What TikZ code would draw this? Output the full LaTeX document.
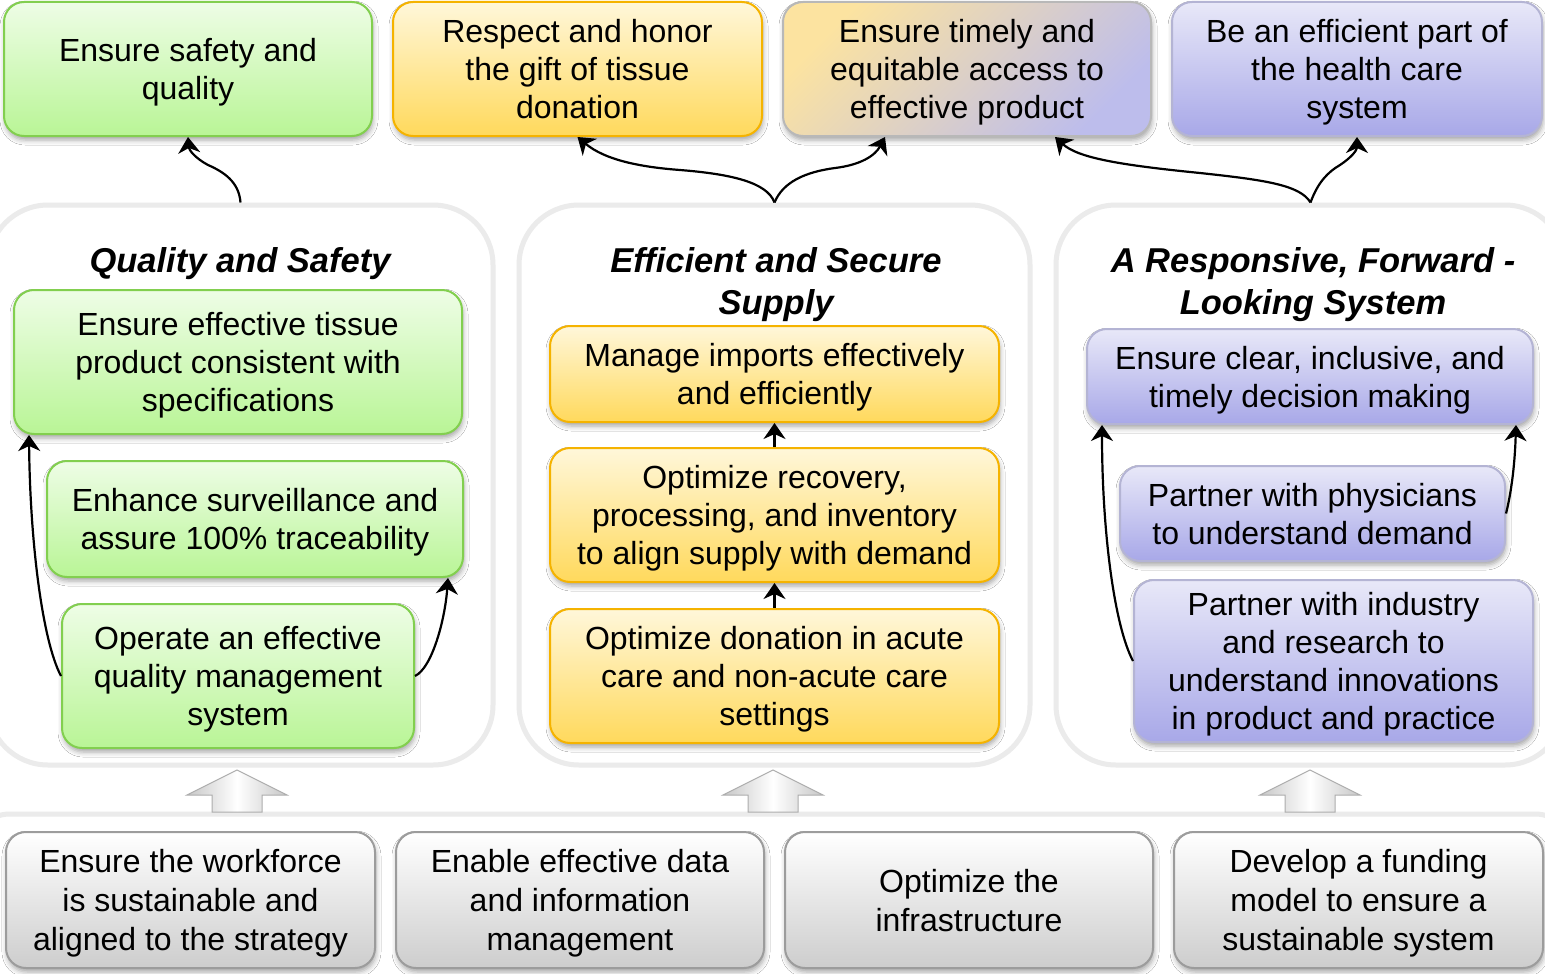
\documentclass[tikz,border=0pt]{standalone}
\usepackage{fontspec}
\setmainfont{Liberation Sans}
\usetikzlibrary{shadows.blur,arrows.meta}
\definecolor{gTop}{HTML}{EEFDE6}
\definecolor{gBot}{HTML}{B9F596}
\definecolor{gLine}{HTML}{82CF4F}
\definecolor{yTop}{HTML}{FFF7DA}
\definecolor{yBot}{HTML}{FFD95C}
\definecolor{yLine}{HTML}{F5B300}
\definecolor{pTop}{HTML}{E8E8F8}
\definecolor{pBot}{HTML}{A8A8E8}
\definecolor{pLine}{HTML}{B4B4D4}
\definecolor{mixA}{HTML}{FCE3A0}
\definecolor{mixB}{HTML}{BDBDEC}
\definecolor{nTop}{HTML}{FFFFFF}
\definecolor{nBot}{HTML}{CDCDCD}
\definecolor{nLine}{HTML}{9C9C9C}
\definecolor{cLine}{HTML}{EBEBEB}
\begin{document}
\begin{tikzpicture}[x=1pt,y=-1pt,
  box/.style={rounded corners=20pt, line width=2pt, align=center,
    font=\fontsize{32}{38}\selectfont, inner sep=0pt, text depth=-2pt,
    blur shadow={shadow xshift=1pt, shadow yshift=-4pt, shadow blur radius=5pt, shadow opacity=35}},
  gbox/.style={box, top color=gTop, bottom color=gBot, draw=gLine},
  ybox/.style={box, top color=yTop, bottom color=yBot, draw=yLine},
  pbox/.style={box, top color=pTop, bottom color=pBot, draw=pLine},
  mbox/.style={box, top color=mixA, bottom color=mixB, shading angle=45, draw=black!28},
  nbox/.style={box, top color=nTop, bottom color=nBot, draw=nLine, font=\fontsize{32}{39}\selectfont},
  container/.style={draw=cLine, line width=5pt, rounded corners=60pt, fill=white, inner sep=0pt},
  head/.style={align=center, font=\bfseries\itshape\fontsize{34.5}{42}\selectfont, text depth=-2pt},
  conn/.style={line width=2.2pt, -{Stealth[length=16pt,width=22pt,inset=5pt]}},
  blockarrow/.style={left color=black!22, right color=black!22, middle color=white, draw=black!32, line width=1pt}
]
\useasboundingbox (0,0) rectangle (1545,974);
\fill[white] (0,0) rectangle (1545,974);

% containers
\node[container, minimum width=505pt, minimum height=560pt] (CL) at (240.5,485) {};
\node[container, minimum width=511pt, minimum height=560pt] (CM) at (774.5,485) {};
\node[container, minimum width=509pt, minimum height=560pt] (CR) at (1310.5,485) {};
\draw[cLine, line width=5pt, rounded corners=40pt] (-30,1100) -- (-30,814) -- (1575,814) -- (1575,1100);

% headings
\node[head] (HL) at (240,260) {Quality and Safety};
\node[head] (HM) at (776,281) {Efficient and Secure\\Supply};
\node[head] (HR) at (1313,281) {A Responsive, Forward -\\Looking System};

% top row
\node[gbox, minimum width=368pt, minimum height=134pt] (T1) at (188,69) {Ensure safety and\\quality};
\node[ybox, minimum width=369pt, minimum height=134pt] (T2) at (577.5,69) {Respect and honor\\the gift of tissue\\donation};
\node[mbox, minimum width=368pt, minimum height=134pt] (T3) at (967,69) {Ensure timely and\\equitable access to\\effective product};
\node[pbox, minimum width=370pt, minimum height=134pt] (T4) at (1357,69) {Be an efficient part of\\the health care\\system};

% left column
\node[gbox, minimum width=448pt, minimum height=144pt] (L1) at (238,362) {Ensure effective tissue\\product consistent with\\specifications};
\node[gbox, minimum width=416pt, minimum height=116pt] (L2) at (255,519) {Enhance surveillance and\\assure 100\% traceability};
\node[gbox, minimum width=352pt, minimum height=144pt] (L3) at (238,676) {Operate an effective\\quality management\\system};

% middle column
\node[ybox, minimum width=449pt, minimum height=96pt] (M1) at (774.5,374) {Manage imports effectively\\and efficiently};
\node[ybox, minimum width=449pt, minimum height=134pt] (M2) at (774.5,515) {Optimize recovery,\\processing, and inventory\\to align supply with demand};
\node[ybox, minimum width=449pt, minimum height=134pt] (M3) at (774.5,676) {Optimize donation in acute\\care and non-acute care\\settings};

% right column
\node[pbox, minimum width=446pt, minimum height=95pt] (R1) at (1310,376.5) {Ensure clear, inclusive, and\\timely decision making};
\node[pbox, minimum width=385pt, minimum height=95pt] (R2) at (1312.5,513.5) {Partner with physicians\\to understand demand};
\node[pbox, minimum width=399pt, minimum height=162pt] (R3) at (1333.5,661) {Partner with industry\\and research to\\understand innovations\\in product and practice};

% bottom row
\node[nbox, minimum width=369pt, minimum height=136pt] (B1) at (190.5,900) {Ensure the workforce\\is sustainable and\\aligned to the strategy};
\node[nbox, minimum width=368pt, minimum height=136pt] (B2) at (580,900) {Enable effective data\\and information\\management};
\node[nbox, minimum width=368pt, minimum height=136pt] (B3) at (969,900) {Optimize the\\infrastructure};
\node[nbox, minimum width=369pt, minimum height=136pt] (B4) at (1358.5,900) {Develop a funding\\model to ensure a\\sustainable system};

% block arrows
\foreach \cx in {237,773,1310}{
  \draw[blockarrow] (\cx,770) -- (\cx+50,795) -- (\cx+25,795) -- (\cx+25,812) -- (\cx-25,812) -- (\cx-25,795) -- (\cx-50,795) -- cycle;
}

% connectors to top row
\draw[conn] (CL.north) .. controls (239,182) and (224,172) .. (208,165) .. controls (195,158) and (189,150) .. (T1.south);
\draw[conn] (CM.north) .. controls (767,182) and (730,174) .. (680,170) .. controls (640,167) and (605,160) .. (T2.south);
\draw[conn] (CM.north) .. controls (783,182) and (805,172) .. (835,168) .. controls (860,165) and (875,156) .. ([xshift=-82pt]T3.south);
\draw[conn] (CR.north) .. controls (1300,185) and (1265,180) .. (1200,173) .. controls (1120,165) and (1078,158) .. ([xshift=88pt]T3.south);
\draw[conn] (CR.north) .. controls (1318,182) and (1328,172) .. (1340,165) .. controls (1352,157) and (1357,150) .. (T4.south);

% left column connectors
\draw[conn] (L3.west) .. controls (42,640) and (30,540) .. ([xshift=16pt]L1.south west);
\draw[conn] (L3.east) .. controls (432,668) and (445,620) .. ([xshift=-16pt]L2.south east);

% middle column connectors
\draw[conn] (M3.north) -- (M2.south);
\draw[conn] (M2.north) -- (M1.south);

% right column connectors
\draw[conn] (R3.west) .. controls (1114,625) and (1102,530) .. ([xshift=16pt]R1.south west);
\draw[conn] (R2.east) .. controls (1512,490) and (1515,460) .. ([xshift=-18pt]R1.south east);
\end{tikzpicture}
\end{document}
